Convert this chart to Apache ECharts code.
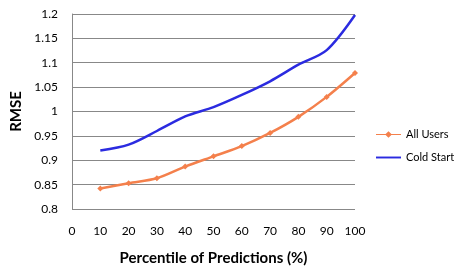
<!DOCTYPE html>
<html>
<head>
<meta charset="utf-8">
<script src="https://cdn.jsdelivr.net/npm/echarts@6/dist/echarts.min.js"></script>
<style>
  html, body { margin: 0; padding: 0; background: #fff; }
  #chart { width: 456px; height: 271px; }
</style>
</head>
<body>
<div id="chart"></div>
<script>
var percentiles = [10, 20, 30, 40, 50, 60, 70, 80, 90, 100];
var allUsers = [0.842, 0.853, 0.863, 0.887, 0.908, 0.929, 0.956, 0.989, 1.030, 1.079];
var coldStart = [0.920, 0.932, 0.960, 0.990, 1.009, 1.034, 1.062, 1.096, 1.126, 1.198];

var pairs = function (xs, ys) {
  return xs.map(function (x, i) { return [x, ys[i]]; });
};

var font = 'Lato, sans-serif';
var chart = echarts.init(document.getElementById('chart'));

chart.setOption({
  animation: false,
  grid: { left: 72, right: 101, top: 14, bottom: 59 },
  legend: {
    orient: 'vertical',
    left: 371,
    top: 124,
    itemWidth: 25,
    itemHeight: 8,
    itemGap: 12,
    textStyle: { fontFamily: font, fontSize: 11, color: '#000' },
    data: [
      { name: 'All Users', icon: 'path://M0,4 L10,4 L13,1 L16,4 L26,4 L26,5 L16,5 L13,8 L10,5 L0,5 Z' },
      { name: 'Cold Start', icon: 'path://M0,3.5 L26,3.5 L26,5.5 L0,5.5 Z' }
    ]
  },
  xAxis: {
    type: 'value',
    min: 0,
    max: 100,
    interval: 10,
    name: 'Percentile of Predictions (%)',
    nameLocation: 'middle',
    nameGap: 42,
    nameTextStyle: { fontFamily: font, fontSize: 15, fontWeight: 'bold', color: '#000' },
    axisLine: { show: false },
    axisTick: { show: false },
    splitLine: { show: false },
    axisLabel: { fontFamily: font, fontSize: 12, color: '#000', margin: 16 }
  },
  yAxis: {
    type: 'value',
    min: 0.8,
    max: 1.2,
    interval: 0.05,
    name: 'RMSE',
    nameLocation: 'middle',
    nameGap: 48,
    nameTextStyle: { fontFamily: font, fontSize: 15, fontWeight: 'bold', color: '#000' },
    axisLine: { show: true, lineStyle: { color: '#888', width: 1 } },
    axisTick: { show: false },
    splitLine: { lineStyle: { color: '#888', width: 1 } },
    axisLabel: {
      fontFamily: font, fontSize: 12, color: '#000', margin: 14,
      formatter: function (v) { return String(+v.toFixed(2)); }
    }
  },
  series: [
    {
      name: 'All Users',
      type: 'line',
      smooth: 0.3,
      data: pairs(percentiles, allUsers),
      symbol: 'diamond',
      symbolSize: 6,
      lineStyle: { color: '#F4804C', width: 2.5 },
      itemStyle: { color: '#F4804C' }
    },
    {
      name: 'Cold Start',
      type: 'line',
      smooth: 0.3,
      data: pairs(percentiles, coldStart),
      symbol: 'none',
      lineStyle: { color: '#2B2BE0', width: 2.5 },
      itemStyle: { color: '#2B2BE0' }
    }
  ]
});
</script>
</body>
</html>
